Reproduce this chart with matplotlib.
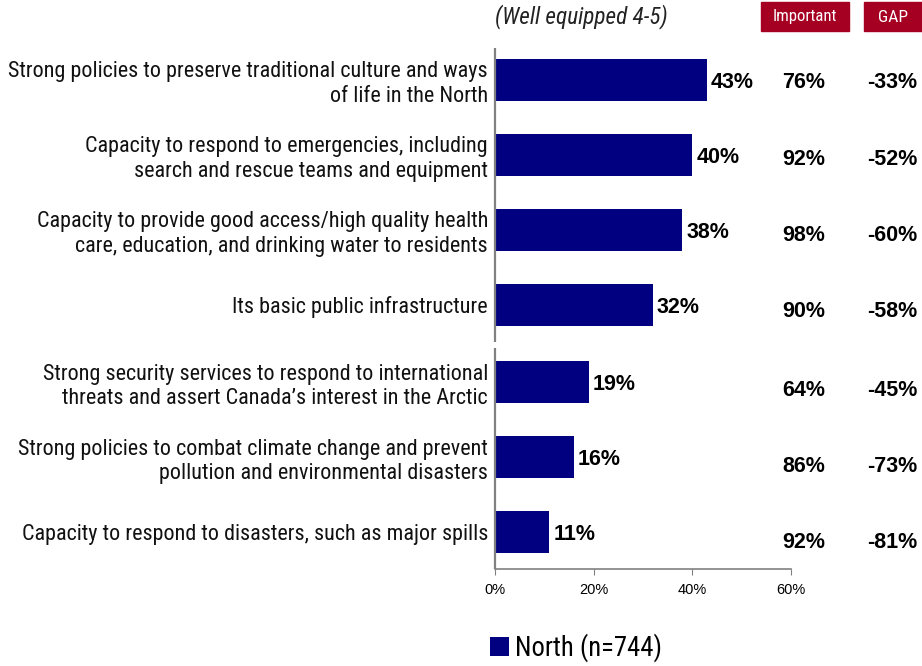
import matplotlib
matplotlib.use("Agg")
import matplotlib.pyplot as plt
from matplotlib.font_manager import fontManager
from matplotlib.patches import Rectangle

categories = [
    "Strong policies to preserve traditional culture and ways\nof life in the North",
    "Capacity to respond to emergencies, including\nsearch and rescue teams and equipment",
    "Capacity to provide good access/high quality health\ncare, education, and drinking water to residents",
    "Its basic public infrastructure",
    "Strong security services to respond to international\nthreats and assert Canada\u2019s interest in the Arctic",
    "Strong policies to combat climate change and prevent\npollution and environmental disasters",
    "Capacity to respond to disasters, such as major spills",
]
well_equipped = [43, 40, 38, 32, 19, 16, 11]
important = [76, 92, 98, 90, 64, 86, 92]
gap = [-33, -52, -60, -58, -45, -73, -81]
series_name = "North (n=744)"
x_ticks = [0, 20, 40, 60]

names = {f.name for f in fontManager.ttflist}
narrow = "Liberation Sans"
for cand in ["Liberation Sans Narrow", "Arial Narrow", "Roboto Condensed",
             "DejaVu Sans Condensed", "Open Sans Condensed"]:
    if cand in names:
        narrow = cand
        break
regular = "Liberation Sans"

NAVY = "#000080"
RED = "#A50021"

fig = plt.figure(figsize=(9.22, 6.66), dpi=100)
renderer = fig.canvas.get_renderer()


def fit_size(text, width_px, family, style="normal", weight="normal"):
    t = fig.text(0, 0, text, fontsize=10, family=family, style=style, fontweight=weight)
    w = t.get_window_extent(renderer).width
    t.remove()
    return 10 * width_px / w


ax = fig.add_axes([495 / 922, 1 - 569 / 666, (791 - 495) / 922, (569 - 48) / 666])

group_gap = 0.03
ypos = [i + (group_gap if i >= 4 else 0) for i in range(len(categories))]

ax.barh(ypos, well_equipped, height=0.56, color=NAVY, label=series_name)
ax.set_xlim(0, 60)
ax.set_ylim(ypos[-1] + 0.49, -0.425)

for s in ["top", "right", "left"]:
    ax.spines[s].set_visible(False)
ax.spines["bottom"].set_color("#808080")
ax.spines["bottom"].set_linewidth(1.2)
ax.plot([0, 0], [-0.425, 3.49], color="#808080", lw=1.6, clip_on=False, solid_capstyle="butt")
ax.plot([0, 0], [3.57, ypos[-1] + 0.49], color="#808080", lw=1.6, clip_on=False, solid_capstyle="butt")

ax.set_xticks(x_ticks)
ax.set_xticklabels([f"{t}%" for t in x_ticks], fontsize=10.5, family=regular)
ax.tick_params(axis="x", direction="out", length=4, color="#808080", pad=6)

label_size = fit_size(categories[0].split("\n")[0], 477, narrow)
ax.set_yticks(ypos)
ax.set_yticklabels(categories, fontsize=label_size, family=narrow, linespacing=1.22,
                   color="#111111")
ax.tick_params(axis="y", length=0, pad=5)

for i, (y, v) in enumerate(zip(ypos, well_equipped)):
    ax.text(v + 0.8, y + 0.03, f"{v}%", va="center", ha="left",
            fontsize=15.5, fontweight="bold", family=regular)
    off = 0.04 + 0.016 * i
    ax.text(62.5, y + off, f"{important[i]}%", va="center", ha="center",
            fontsize=15.5, fontweight="bold", family=regular, clip_on=False)
    ax.text(80.5, y + off, f"{gap[i]}%", va="center", ha="center",
            fontsize=15.5, fontweight="bold", family=regular, clip_on=False)

# header
hdr = "(Well equipped 4-5)"
fig.text(495 / 922, 1 - 17 / 666, hdr, fontsize=fit_size(hdr, 172, narrow, style="italic"),
         style="italic", family=narrow, va="center", ha="left", color="#222222")
for (x0, x1, txt, tw) in [(761, 849, "Important", 64), (864, 922, "GAP", 30)]:
    fig.patches.append(Rectangle((x0 / 922, 1 - 31 / 666), (x1 - x0) / 922, 29 / 666,
                                 transform=fig.transFigure, color=RED))
    fig.text((x0 + x1) / 2 / 922, 1 - 17 / 666, txt, fontsize=fit_size(txt, tw, narrow),
             color="white", family=narrow, ha="center", va="center")

# legend
leg_size = fit_size(series_name, 147, narrow)
leg_px = leg_size * 100 / 72
fig.legend(loc="center left", bbox_to_anchor=(490 / 922, 1 - 648 / 666), frameon=False,
           prop={"family": narrow, "size": leg_size},
           handlelength=19 / leg_px, handleheight=19 / leg_px,
           handletextpad=6 / leg_px, borderaxespad=0, borderpad=0)

fig.savefig("out.png", dpi=100)
